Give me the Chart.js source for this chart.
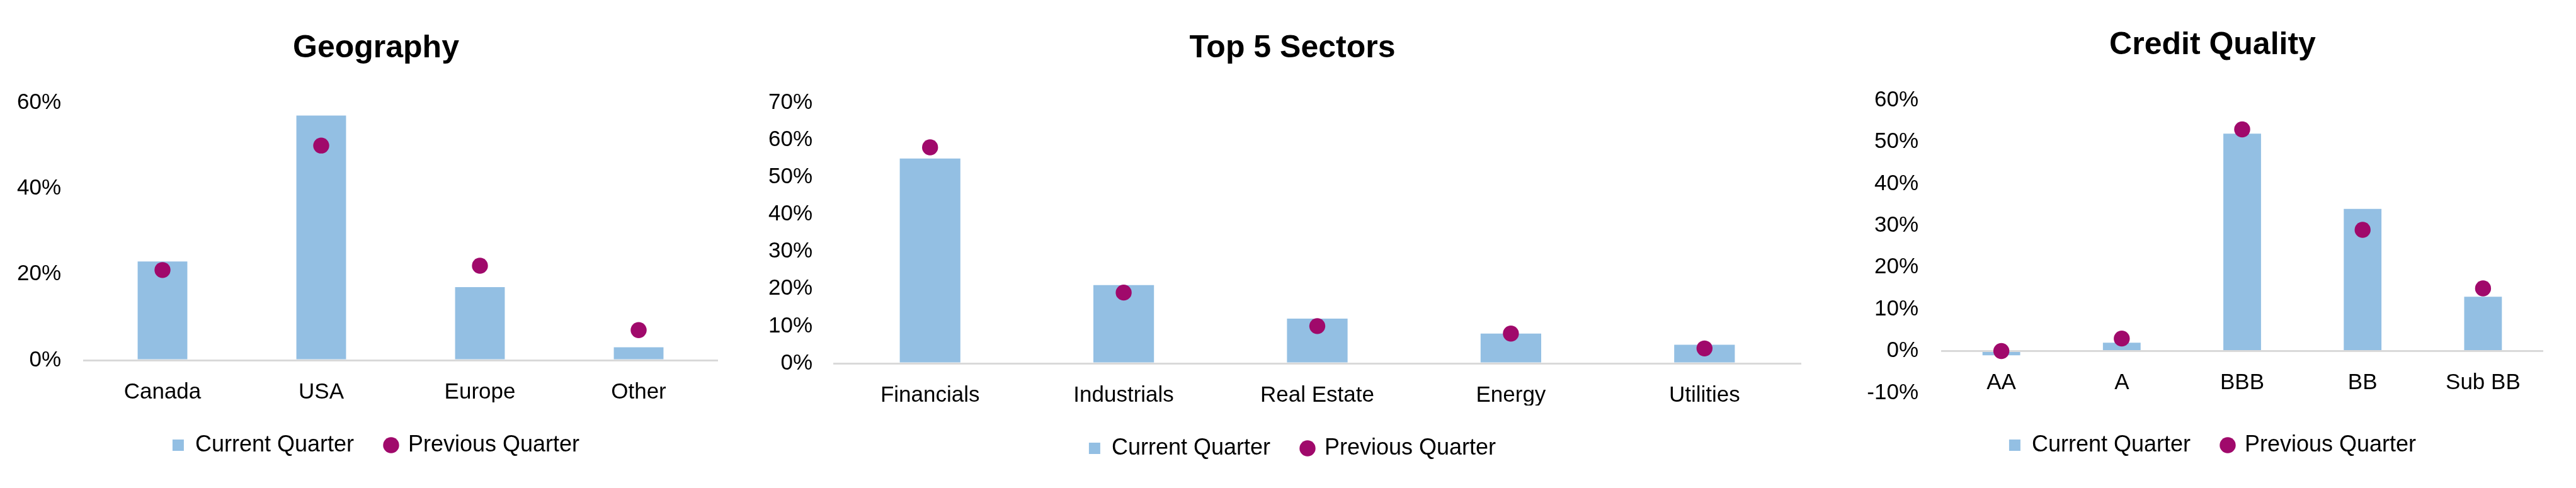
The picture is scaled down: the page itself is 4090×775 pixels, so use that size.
<!DOCTYPE html>
<html>
<head>
<meta charset="utf-8">
<script src="https://cdn.jsdelivr.net/npm/chart.js@4.4.1/dist/chart.umd.min.js"></script>
<style>
  html, body { margin: 0; padding: 0; background: #fff; overflow: hidden; }
  .box { position: absolute; top: 0; height: 775px; }
</style>
</head>
<body>
<div class="box" style="left:0;width:1194px"><canvas id="geo"></canvas></div>
<div class="box" style="left:1220px;width:1664px"><canvas id="sectors"></canvas></div>
<div class="box" style="left:2936px;width:1154px"><canvas id="credit"></canvas></div>
<script>
// values, in percent
const geoLabels = ['Canada', 'USA', 'Europe', 'Other'];
const geoCurrent = [23, 57, 17, 3];
const geoPrevious = [21, 50, 22, 7];
const geoTicks = [0, 60, 20];          // min, max, step

const sectorLabels = ['Financials', 'Industrials', 'Real Estate', 'Energy', 'Utilities'];
const sectorCurrent = [55, 21, 12, 8, 5];
const sectorPrevious = [58, 19, 10, 8, 4];
const sectorTicks = [0, 70, 10];

const creditLabels = ['AA', 'A', 'BBB', 'BB', 'Sub BB'];
const creditCurrent = [-1, 2, 52, 34, 13];
const creditPrevious = [0, 3, 53, 29, 15];
const creditTicks = [-10, 60, 10];

const seriesNames = ['Current Quarter', 'Previous Quarter'];

const BLUE = '#93bfe3';
const PLUM = '#a0096b';
const FONT = "'Liberation Sans', Arial, sans-serif";

Chart.defaults.font.family = FONT;
Chart.defaults.color = '#000';

// invisible axis used only as a spacer
function spacer(pos, size) {
  return {
    type: 'linear', position: pos,
    grid: { display: false, drawTicks: false },
    border: { display: false },
    ticks: { display: false },
    afterFit: s => { if (pos === 'right') s.width = size; else s.height = size; }
  };
}

function makeChart(id, o) {
  const scales = {
    x: {
      position: o.zeroAxis ? { y: 0 } : 'bottom',
      grid: { display: false, drawTicks: false },
      border: { display: false },
      ticks: { padding: 30, font: { size: 35 }, color: '#000', maxRotation: 0 },
      afterFit: s => { s.height = o.xHeight; }
    },
    y: {
      min: o.ticks[0], max: o.ticks[1],
      grid: {
        drawTicks: false,
        color: c => (c.tick && c.tick.value === 0) ? '#d9d9d9' : 'rgba(0,0,0,0)',
        lineWidth: 3
      },
      border: { display: false },
      ticks: {
        stepSize: o.ticks[2], padding: o.tickPad, font: { size: 35 }, color: '#000',
        callback: v => v + '%'
      },
      afterFit: s => { s.width = o.yWidth; }
    },
    gapRight: spacer('right', o.padRight)
  };
  if (o.padBottom) scales.gapBottom = spacer('bottom', o.padBottom);

  return new Chart(document.getElementById(id), {
    type: 'bar',
    data: {
      labels: o.labels,
      datasets: [
        { label: seriesNames[0], data: o.current, backgroundColor: BLUE, borderWidth: 0,
          barPercentage: 0.313, categoryPercentage: 1, pointStyle: 'rect', order: 1 },
        { type: 'line', label: seriesNames[1], data: o.previous, showLine: false, fill: false,
          backgroundColor: PLUM, borderColor: PLUM, pointRadius: 12.7, pointHoverRadius: 12.7,
          pointBorderWidth: 0, pointStyle: 'circle', order: 0 }
      ]
    },
    options: {
      responsive: true,
      maintainAspectRatio: false,
      animation: false,
      layout: { padding: { left: 0, right: 0, top: 0, bottom: o.legendBottom } },
      plugins: {
        tooltip: { enabled: false },
        title: {
          display: true, text: o.title, color: '#000',
          font: { size: 50, weight: 'bold' },
          padding: { top: o.titleTop, bottom: o.titleBottom }
        },
        legend: {
          position: 'bottom',
          labels: {
            usePointStyle: true, boxHeight: 18, boxWidth: 18, padding: 50,
            font: { size: 36 }, color: '#000',
            sort: (a, b) => a.datasetIndex - b.datasetIndex
          }
        }
      },
      scales
    }
  });
}

makeChart('geo', {
  title: 'Geography', labels: geoLabels, current: geoCurrent, previous: geoPrevious,
  ticks: geoTicks, yWidth: 132, tickPad: 35, padRight: 54,
  titleTop: 47, titleBottom: 56, xHeight: 67, legendBottom: 40
});

makeChart('sectors', {
  title: 'Top 5 Sectors', labels: sectorLabels, current: sectorCurrent, previous: sectorPrevious,
  ticks: sectorTicks, yWidth: 103, tickPad: 33, padRight: 24,
  titleTop: 47, titleBottom: 56, xHeight: 67, legendBottom: 35
});

makeChart('credit', {
  title: 'Credit Quality', labels: creditLabels, current: creditCurrent, previous: creditPrevious,
  ticks: creditTicks, yWidth: 146, tickPad: 36, padRight: 52,
  titleTop: 42, titleBottom: 57, xHeight: 18, padBottom: 15, zeroAxis: true, legendBottom: 40
});
</script>
</body>
</html>
